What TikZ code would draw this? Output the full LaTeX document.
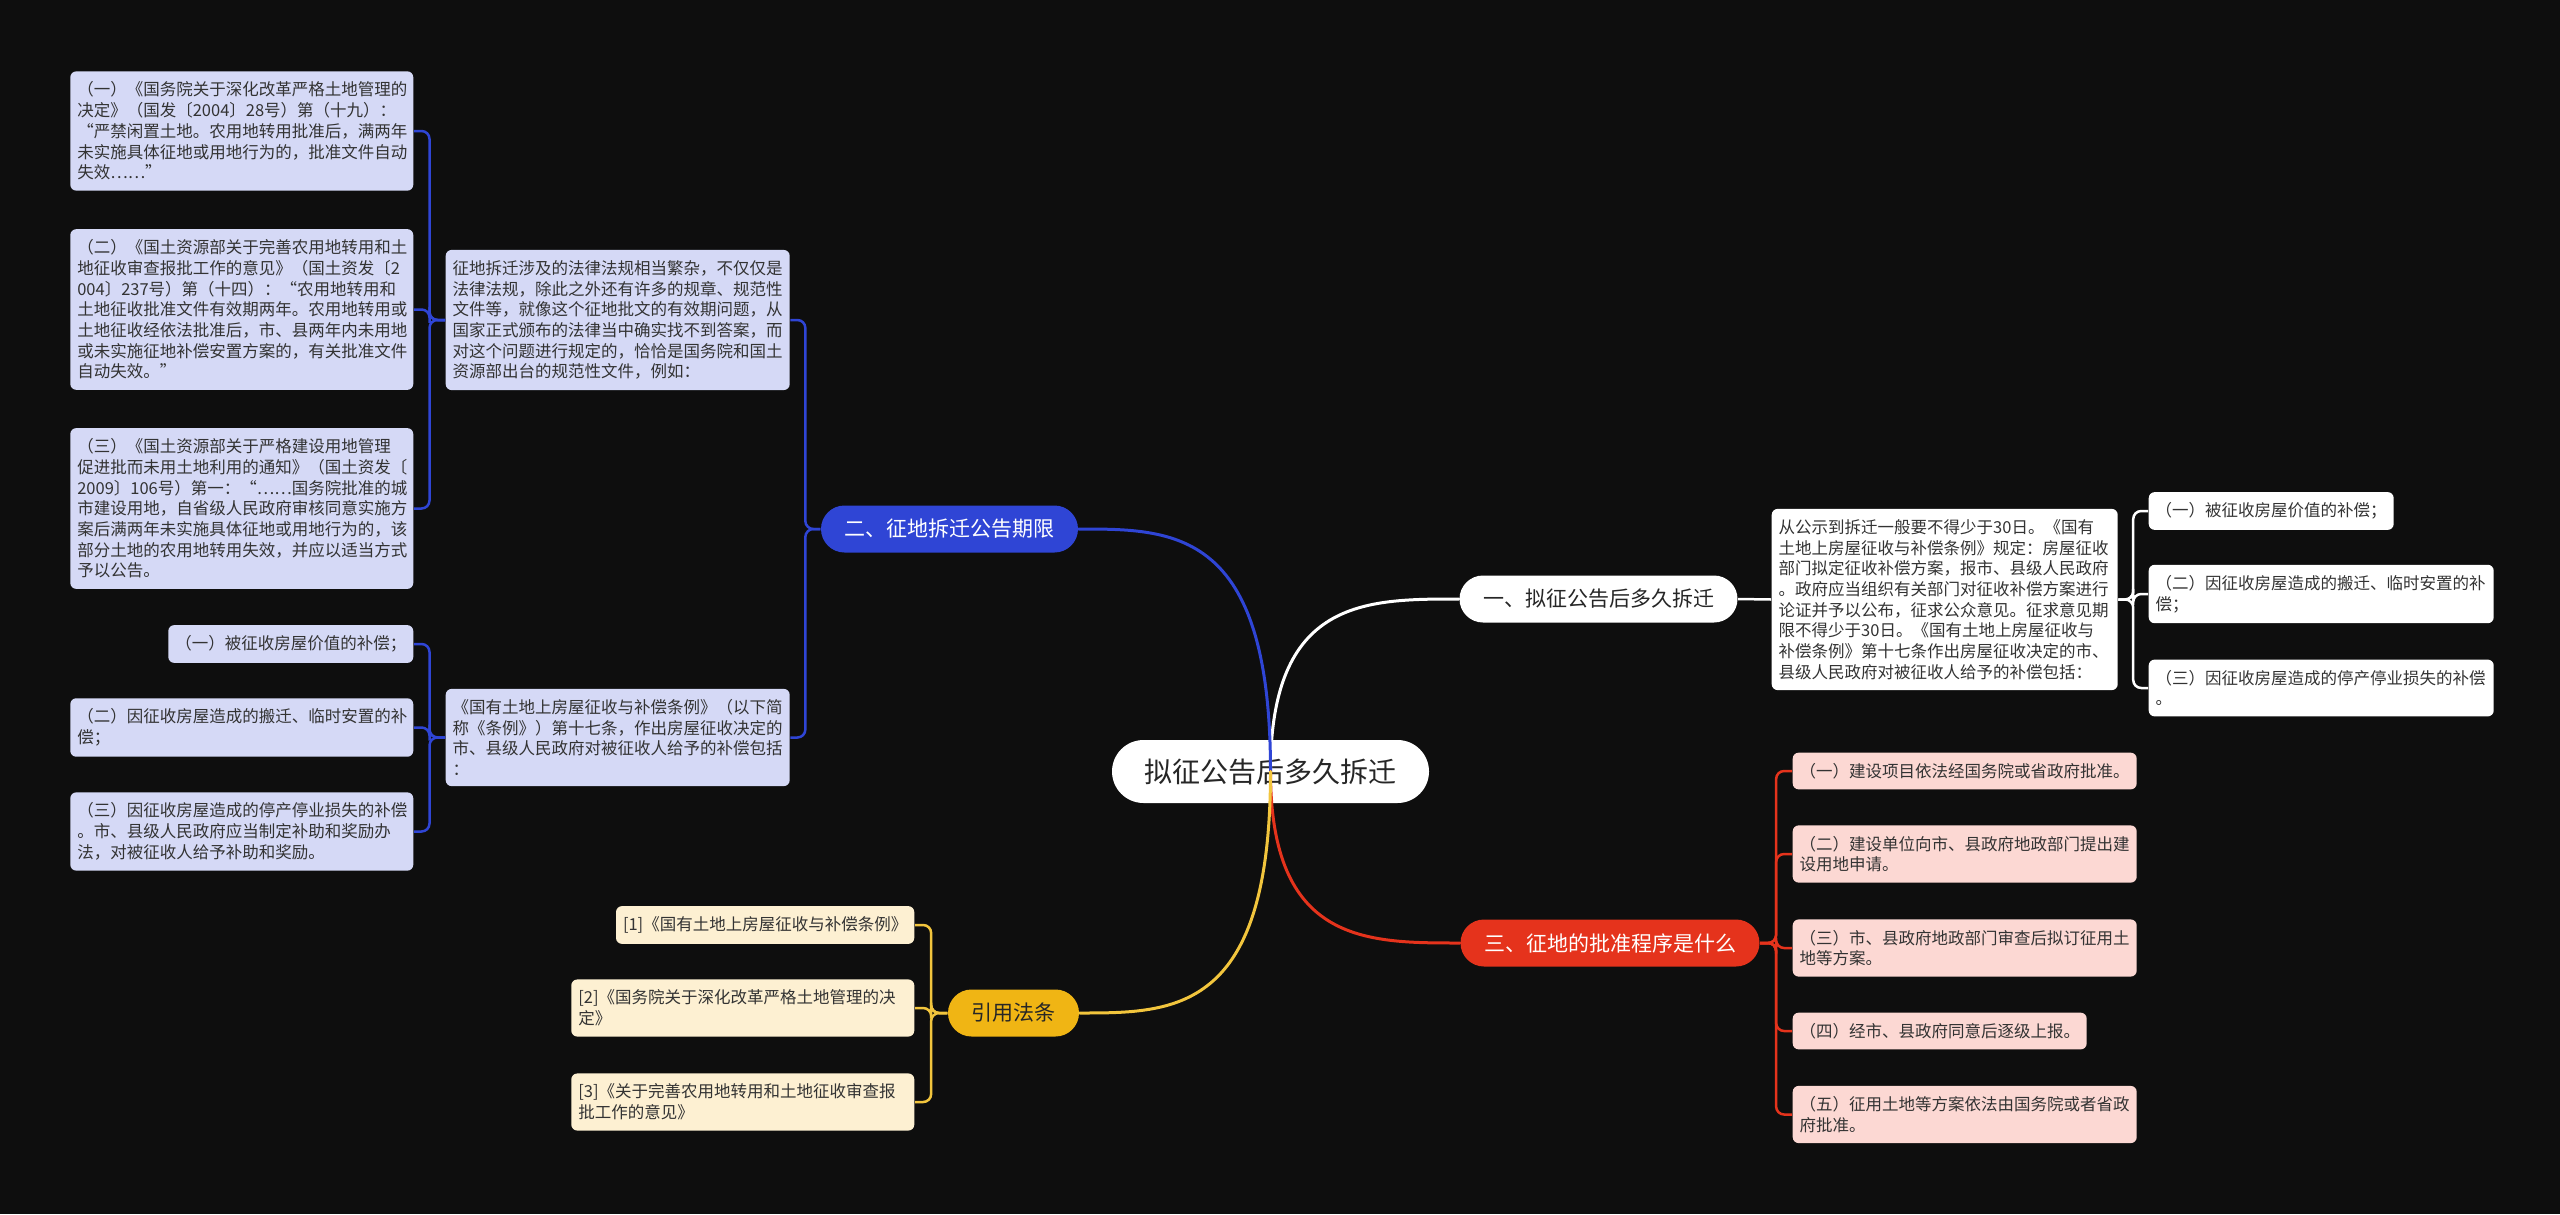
\documentclass[tikz,border=0pt]{standalone}
\usepackage{fontspec}
\newfontfamily\cjk{Noto Sans CJK SC}
\usetikzlibrary{calc}

\definecolor{bgdark}{HTML}{0E0E0E}
\definecolor{topicblue}{HTML}{2F45D5}
\definecolor{leafblue}{HTML}{D5D9F6}
\definecolor{topicred}{HTML}{E5331C}
\definecolor{leafred}{HTML}{FCD8D3}
\definecolor{topicyellow}{HTML}{F0B514}
\definecolor{lineyellow}{HTML}{F2C53D}
\definecolor{leafyellow}{HTML}{FDF0D2}
\definecolor{leaftext}{HTML}{333333}

\begin{document}
\begin{tikzpicture}[x=1cm,y=1cm]
\tikzset{
  rootnode/.style={fill=white,rounded corners=0.315cm,minimum height=0.63cm,inner xsep=0.325cm,inner ysep=0pt,text=black!85,font=\cjk\fontsize{0.28cm}{0.33cm}\selectfont},
  topicnode/.style={rounded corners=0.235cm,minimum height=0.47cm,inner xsep=0.235cm,inner ysep=0pt,font=\cjk\fontsize{0.21cm}{0.25cm}\selectfont},
  leafnode/.style={rounded corners=0.06cm,inner xsep=0.07cm,inner ysep=0.105cm,align=left,text=leaftext,font=\cjk\fontsize{0.165cm}{0.207cm}\selectfont},
  mainline/.style={line width=0.03cm,line cap=round},
  subline/.style={line width=0.025cm,rounded corners=0.08cm}
}
\fill[bgdark] (0,0) rectangle (25.60,12.14);
\useasboundingbox (0,0) rectangle (25.60,12.14);

% centre and main topics
\node[rootnode] (n_root) at (12.705,4.425) {拟征公告后多久拆迁};
\node[topicnode,fill=white,text=black!85] (n_T1) at (15.985,6.15) {一、拟征公告后多久拆迁};
\node[topicnode,fill=topicblue,text=white] (n_T2) at (9.495,6.85) {二、征地拆迁公告期限};
\node[topicnode,fill=topicred,text=white] (n_T3) at (16.10,2.71) {三、征地的批准程序是什么};
\node[topicnode,fill=topicyellow,text=black!85] (n_T4) at (10.135,2.01) {引用法条};

% topic 1
\node[leafnode,fill=white,anchor=west,text width=3.32cm] (n_T1D) at (17.71,6.145) {从公示到拆迁一般要不得少于30日。《国有\\土地上房屋征收与补偿条例》规定：房屋征收\\部门拟定征收补偿方案，报市、县级人民政府\\。政府应当组织有关部门对征收补偿方案进行\\论证并予以公布，征求公众意见。征求意见期\\限不得少于30日。《国有土地上房屋征收与\\补偿条例》第十七条作出房屋征收决定的市、\\县级人民政府对被征收人给予的补偿包括：};
\node[leafnode,fill=white,anchor=west] (n_T1a) at (21.48,7.03) {（一）被征收房屋价值的补偿；};
\node[leafnode,fill=white,anchor=west,text width=3.31cm] (n_T1b) at (21.48,6.20) {（二）因征收房屋造成的搬迁、临时安置的补\\偿；};
\node[leafnode,fill=white,anchor=west,text width=3.31cm] (n_T1c) at (21.48,5.26) {（三）因征收房屋造成的停产停业损失的补偿\\。};

% topic 2
\node[leafnode,fill=leafblue,anchor=west,text width=3.30cm] (n_T2D1) at (4.45,8.94) {征地拆迁涉及的法律法规相当繁杂，不仅仅是\\法律法规，除此之外还有许多的规章、规范性\\文件等，就像这个征地批文的有效期问题，从\\国家正式颁布的法律当中确实找不到答案，而\\对这个问题进行规定的，恰恰是国务院和国土\\资源部出台的规范性文件，例如：};
\node[leafnode,fill=leafblue,anchor=west,text width=3.30cm] (n_T2D2) at (4.45,4.765) {《国有土地上房屋征收与补偿条例》（以下简\\称《条例》）第十七条，作出房屋征收决定的\\市、县级人民政府对被征收人给予的补偿包括\\：};
\node[leafnode,fill=leafblue,anchor=east,text width=3.29cm] (n_T2A1) at (4.14,10.83) {（一）《国务院关于深化改革严格土地管理的\\决定》（国发〔2004〕28号）第（十九）：\\“严禁闲置土地。农用地转用批准后，满两年\\未实施具体征地或用地行为的，批准文件自动\\失效……”};
\node[leafnode,fill=leafblue,anchor=east,text width=3.29cm] (n_T2A2) at (4.14,9.045) {（二）《国土资源部关于完善农用地转用和土\\地征收审查报批工作的意见》（国土资发〔2\\004〕237号）第（十四）：“农用地转用和\\土地征收批准文件有效期两年。农用地转用或\\土地征收经依法批准后，市、县两年内未用地\\或未实施征地补偿安置方案的，有关批准文件\\自动失效。”};
\node[leafnode,fill=leafblue,anchor=east,text width=3.29cm] (n_T2A3) at (4.14,7.055) {（三）《国土资源部关于严格建设用地管理\\促进批而未用土地利用的通知》（国土资发〔\\2009〕106号）第一：“……国务院批准的城\\市建设用地，自省级人民政府审核同意实施方\\案后满两年未实施具体征地或用地行为的，该\\部分土地的农用地转用失效，并应以适当方式\\予以公告。};
\node[leafnode,fill=leafblue,anchor=east] (n_T2B1) at (4.14,5.70) {（一）被征收房屋价值的补偿；};
\node[leafnode,fill=leafblue,anchor=east,text width=3.29cm] (n_T2B2) at (4.14,4.865) {（二）因征收房屋造成的搬迁、临时安置的补\\偿；};
\node[leafnode,fill=leafblue,anchor=east,text width=3.29cm] (n_T2B3) at (4.14,3.825) {（三）因征收房屋造成的停产停业损失的补偿\\。市、县级人民政府应当制定补助和奖励办\\法，对被征收人给予补助和奖励。};

% topic 3
\node[leafnode,fill=leafred,anchor=west,text width=3.30cm] (n_T3a) at (17.92,4.43) {（一）建设项目依法经国务院或省政府批准。};
\node[leafnode,fill=leafred,anchor=west,text width=3.30cm] (n_T3b) at (17.92,3.60) {（二）建设单位向市、县政府地政部门提出建\\设用地申请。};
\node[leafnode,fill=leafred,anchor=west,text width=3.30cm] (n_T3c) at (17.92,2.66) {（三）市、县政府地政部门审查后拟订征用土\\地等方案。};
\node[leafnode,fill=leafred,anchor=west,text width=2.80cm] (n_T3d) at (17.92,1.83) {（四）经市、县政府同意后逐级上报。};
\node[leafnode,fill=leafred,anchor=west,text width=3.30cm] (n_T3e) at (17.92,0.995) {（五）征用土地等方案依法由国务院或者省政\\府批准。};

% topic 4
\node[leafnode,fill=leafyellow,anchor=east] (n_T4a) at (9.15,2.89) {[1]《国有土地上房屋征收与补偿条例》};
\node[leafnode,fill=leafyellow,anchor=east,text width=3.29cm] (n_T4b) at (9.15,2.06) {[2]《国务院关于深化改革严格土地管理的决\\定》};
\node[leafnode,fill=leafyellow,anchor=east,text width=3.29cm] (n_T4c) at (9.15,1.12) {[3]《关于完善农用地转用和土地征收审查报\\批工作的意见》};

% curves from the centre
\draw[mainline,draw=white] (n_root.center) .. controls (n_root.center |- n_T1.west) and ($(n_root.center |- n_T1.west)!0.5!(n_T1.west)$) .. (n_T1.west);
\draw[mainline,draw=topicblue] (n_root.center) .. controls (n_root.center |- n_T2.east) and ($(n_root.center |- n_T2.east)!0.5!(n_T2.east)$) .. (n_T2.east);
\draw[mainline,draw=topicred] (n_root.center) .. controls (n_root.center |- n_T3.west) and ($(n_root.center |- n_T3.west)!0.5!(n_T3.west)$) .. (n_T3.west);
\draw[mainline,draw=lineyellow] (n_root.center) .. controls (n_root.center |- n_T4.east) and ($(n_root.center |- n_T4.east)!0.5!(n_T4.east)$) .. (n_T4.east);

% brackets
\draw[subline,draw=white] (n_T1.east) -- (n_T1D.west);
\draw[subline,draw=white] (n_T1D.east) -| ($(n_T1D.east)!0.5!(n_T1a.west)$) |- (n_T1a.west);
\draw[subline,draw=white] (n_T1D.east) -| ($(n_T1D.east)!0.5!(n_T1b.west)$) |- (n_T1b.west);
\draw[subline,draw=white] (n_T1D.east) -| ($(n_T1D.east)!0.5!(n_T1c.west)$) |- (n_T1c.west);
\draw[subline,draw=topicblue] (n_T2.west) -| ($(n_T2.west)!0.5!(n_T2D1.east)$) |- (n_T2D1.east);
\draw[subline,draw=topicblue] (n_T2.west) -| ($(n_T2.west)!0.5!(n_T2D2.east)$) |- (n_T2D2.east);
\draw[subline,draw=topicblue] (n_T2D1.west) -| ($(n_T2D1.west)!0.5!(n_T2A1.east)$) |- (n_T2A1.east);
\draw[subline,draw=topicblue] (n_T2D1.west) -| ($(n_T2D1.west)!0.5!(n_T2A2.east)$) |- (n_T2A2.east);
\draw[subline,draw=topicblue] (n_T2D1.west) -| ($(n_T2D1.west)!0.5!(n_T2A3.east)$) |- (n_T2A3.east);
\draw[subline,draw=topicblue] (n_T2D2.west) -| ($(n_T2D2.west)!0.5!(n_T2B1.east)$) |- (n_T2B1.east);
\draw[subline,draw=topicblue] (n_T2D2.west) -| ($(n_T2D2.west)!0.5!(n_T2B2.east)$) |- (n_T2B2.east);
\draw[subline,draw=topicblue] (n_T2D2.west) -| ($(n_T2D2.west)!0.5!(n_T2B3.east)$) |- (n_T2B3.east);
\draw[subline,draw=topicred] (n_T3.east) -| ($(n_T3.east)!0.5!(n_T3a.west)$) |- (n_T3a.west);
\draw[subline,draw=topicred] (n_T3.east) -| ($(n_T3.east)!0.5!(n_T3b.west)$) |- (n_T3b.west);
\draw[subline,draw=topicred] (n_T3.east) -| ($(n_T3.east)!0.5!(n_T3c.west)$) |- (n_T3c.west);
\draw[subline,draw=topicred] (n_T3.east) -| ($(n_T3.east)!0.5!(n_T3d.west)$) |- (n_T3d.west);
\draw[subline,draw=topicred] (n_T3.east) -| ($(n_T3.east)!0.5!(n_T3e.west)$) |- (n_T3e.west);
\draw[subline,draw=lineyellow] (n_T4.west) -| ($(n_T4.west)!0.5!(n_T4a.east)$) |- (n_T4a.east);
\draw[subline,draw=lineyellow] (n_T4.west) -| ($(n_T4.west)!0.5!(n_T4b.east)$) |- (n_T4b.east);
\draw[subline,draw=lineyellow] (n_T4.west) -| ($(n_T4.west)!0.5!(n_T4c.east)$) |- (n_T4c.east);
\end{tikzpicture}
\end{document}
